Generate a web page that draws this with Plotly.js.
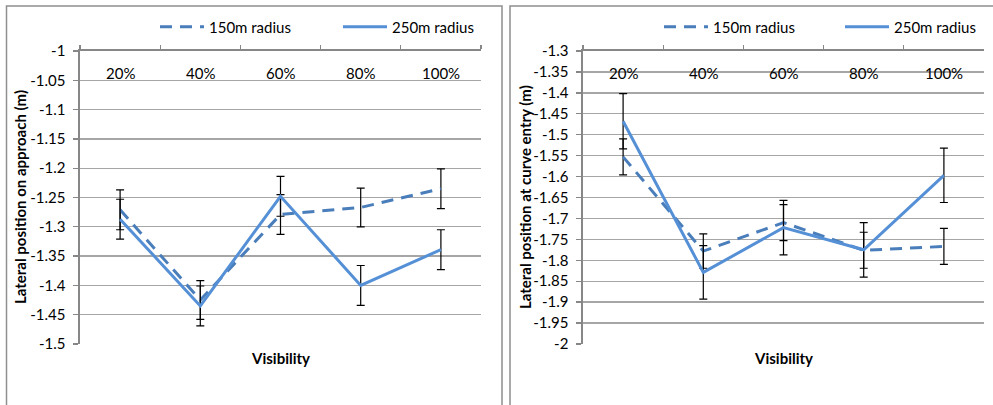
<!DOCTYPE html>
<html><head><meta charset="utf-8">
<script src="https://cdn.plot.ly/plotly-3.0.1.min.js"></script>
<style>html,body{margin:0;padding:0;background:#fff;}#chart{width:993px;height:405px;}</style>
</head><body><div id="chart"></div>
<script>
// ---- data ----
const categories = ['20%', '40%', '60%', '80%', '100%'];
const seriesNames = ['150m radius', '250m radius'];

const approach150 = [-1.271, -1.425, -1.279, -1.267, -1.235];
const approach150Err = [0.034, 0.033, 0.034, 0.033, 0.034];
const approach250 = [-1.287, -1.435, -1.248, -1.400, -1.339];
const approach250Err = [0.034, 0.034, 0.034, 0.034, 0.034];

const entry150 = [-1.553, -1.778, -1.710, -1.776, -1.767];
const entry150Err = [0.043, 0.041, 0.043, 0.043, 0.043];
const entry250 = [-1.468, -1.829, -1.722, -1.775, -1.597];
const entry250Err = [0.066, 0.064, 0.065, 0.065, 0.065];

const yTicksLeft = [-1, -1.05, -1.1, -1.15, -1.2, -1.25, -1.3, -1.35, -1.4, -1.45, -1.5];
const yTicksRight = [-1.3, -1.35, -1.4, -1.45, -1.5, -1.55, -1.6, -1.65, -1.7, -1.75, -1.8, -1.85, -1.9, -1.95, -2];
const yTitleLeft = 'Lateral position on approach (m)';
const yTitleRight = 'Lateral position at curve entry (m)';
const xTitle = 'Visibility';

// ---- style ----
const FONT = 'Lato, "Open Sans", sans-serif';
const dashColor = '#4a7ebb';
const solidColor = '#5590d6';
const gridColor = '#a6a6a6';
const axisColor = '#878787';
const W = 993, H = 405;
const px = v => v / W, py = v => (H - v) / H;

function errObj(arr) {
  return {type: 'data', array: arr, visible: true, color: '#000', thickness: 1.2, width: 4};
}
function mk(y, err, name, dash, color, xa, ya, leg) {
  return {
    type: 'scatter', mode: 'lines', x: categories, y: y, name: name,
    xaxis: xa, yaxis: ya, legend: leg, showlegend: true,
    line: {color: color, width: 3, dash: dash},
    error_y: errObj(err), hoverinfo: 'x+y'
  };
}
const DASH = '12px,8px';
const traces = [
  mk(approach150, approach150Err, seriesNames[0], DASH, dashColor, 'x', 'y', 'legend'),
  mk(approach250, approach250Err, seriesNames[1], 'solid', solidColor, 'x', 'y', 'legend'),
  mk(entry150, entry150Err, seriesNames[0], DASH, dashColor, 'x2', 'y2', 'legend2'),
  mk(entry250, entry250Err, seriesNames[1], 'solid', solidColor, 'x2', 'y2', 'legend2'),
];

const domY = [py(344), py(51)];
const domL = [px(80), px(481)];
const domR = [px(583), px(984)];

function catAxis(dom, anchor) {
  return {
    domain: dom, anchor: anchor, type: 'category', side: 'top',
    categoryorder: 'array', categoryarray: categories,
    range: [-0.5, 4.5], showgrid: false, zeroline: false,
    showline: true, linecolor: axisColor, linewidth: 1.6,
    ticks: 'outside', tickson: 'boundaries', ticklen: 4, tickcolor: axisColor, tickwidth: 1.3,
    showticklabels: false, fixedrange: true
  };
}
function valAxis(dom, anchor, ticks) {
  return {
    domain: dom, anchor: anchor, range: [ticks[ticks.length - 1], ticks[0]],
    tickvals: ticks, ticktext: ticks.map(String),
    showgrid: true, gridcolor: gridColor, gridwidth: 1.3,
    showline: true, linecolor: axisColor, linewidth: 1.6,
    ticks: 'outside', ticklen: 5, tickcolor: axisColor, tickwidth: 1.3,
    ticklabelstandoff: 5,
    tickfont: {family: FONT, size: 15, color: '#000'}, zeroline: false,
    fixedrange: true
  };
}
const legFont = {family: FONT, size: 15, color: '#000'};
const titleFont = {family: FONT, size: 15, color: '#000', weight: 'bold'};
const catFont = {family: FONT, size: 15, color: '#000'};

const annotations = [
  {xref: 'x domain', yref: 'paper', x: 0.5, y: py(358), text: '<b>' + xTitle + '</b>', showarrow: false,
   font: titleFont, yanchor: 'middle'},
  {xref: 'x2 domain', yref: 'paper', x: 0.5, y: py(358), text: '<b>' + xTitle + '</b>', showarrow: false,
   font: titleFont, yanchor: 'middle'},
  {xref: 'paper', yref: 'paper', x: px(20), y: py(197), text: '<b>' + yTitleLeft + '</b>', textangle: -90,
   showarrow: false, font: titleFont, xanchor: 'center', yanchor: 'middle'},
  {xref: 'paper', yref: 'paper', x: px(525), y: py(197), text: '<b>' + yTitleRight + '</b>', textangle: -90,
   showarrow: false, font: titleFont, xanchor: 'center', yanchor: 'middle'}
];
// category labels just below the top axis line (Excel style)
['x', 'x2'].forEach(xr => categories.forEach(c => annotations.push({
  xref: xr, yref: 'paper', x: c, y: py(73), text: c, showarrow: false,
  font: catFont, xanchor: 'center', yanchor: 'middle'
})));

const layout = {
  width: W, height: H, margin: {l: 0, r: 0, t: 0, b: 0, autoexpand: false},
  paper_bgcolor: '#fff', plot_bgcolor: '#fff',
  font: {family: FONT, color: '#000'},
  xaxis: catAxis(domL, 'y'),
  yaxis: valAxis(domY, 'x', yTicksLeft),
  xaxis2: catAxis(domR, 'y2'),
  yaxis2: valAxis(domY, 'x2', yTicksRight),
  legend: {orientation: 'h', x: px(155), xanchor: 'left', y: py(27), yanchor: 'middle',
           font: legFont, bgcolor: 'rgba(0,0,0,0)', itemwidth: 44, entrywidth: 124, entrywidthmode: 'pixels'},
  legend2: {orientation: 'h', x: px(659), xanchor: 'left', y: py(27), yanchor: 'middle',
            font: legFont, bgcolor: 'rgba(0,0,0,0)', itemwidth: 44, entrywidth: 122, entrywidthmode: 'pixels'},
  annotations: annotations,
  shapes: [
    {type: 'rect', xref: 'paper', yref: 'paper', x0: px(6.5), x1: px(502), y0: -0.2, y1: py(6),
     line: {color: '#8f8f8f', width: 1.5}, layer: 'below'},
    {type: 'rect', xref: 'paper', yref: 'paper', x0: px(510), x1: 1.2, y0: -0.2, y1: py(6),
     line: {color: '#8f8f8f', width: 1.5}, layer: 'below'}
  ]
};

Plotly.newPlot('chart', traces, layout, {displayModeBar: false, staticPlot: true});
</script></body></html>
